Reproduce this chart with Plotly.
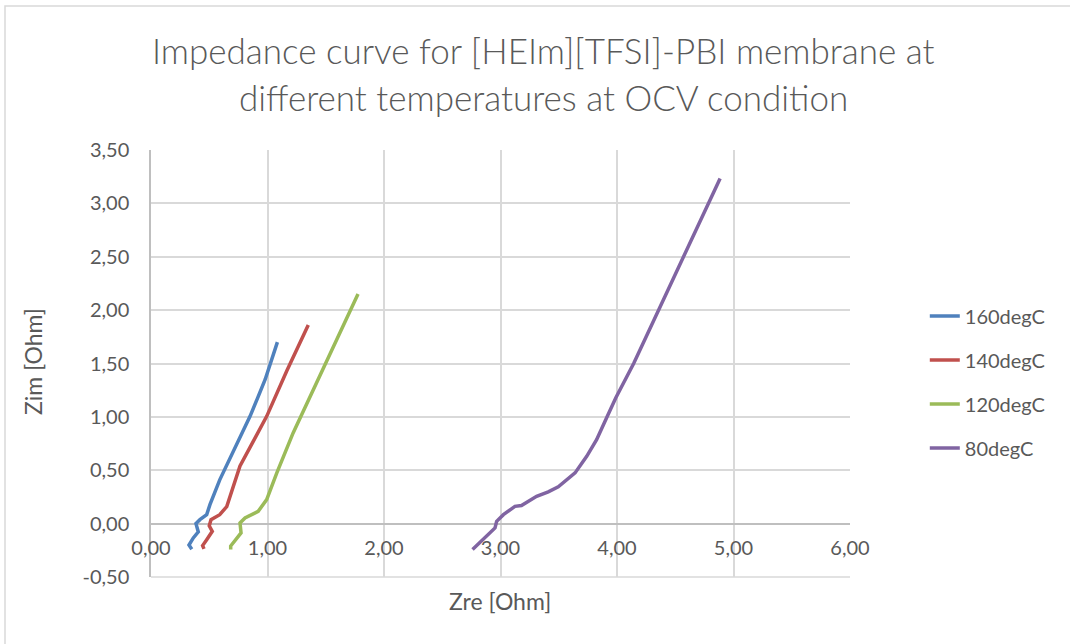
import plotly.graph_objects as go

series_names = ["160degC", "140degC", "120degC", "80degC"]

zre_160 = [0.35, 0.326, 0.363, 0.406, 0.386, 0.42, 0.478, 0.506, 0.59, 0.85, 0.92, 0.98, 1.085]
zim_160 = [-0.24, -0.20, -0.134, -0.078, 0.0, 0.037, 0.084, 0.178, 0.41, 1.005, 1.19, 1.35, 1.70]

zre_140 = [0.455, 0.443, 0.478, 0.526, 0.50, 0.515, 0.59, 0.65, 0.764, 0.993, 1.165, 1.35]
zim_140 = [-0.237, -0.206, -0.15, -0.072, -0.02, 0.037, 0.084, 0.16, 0.54, 1.005, 1.43, 1.86]

zre_120 = [0.684, 0.684, 0.773, 0.764, 0.807, 0.92, 0.993, 1.08, 1.22, 1.68, 1.777]
zim_120 = [-0.243, -0.21, -0.087, 0.006, 0.053, 0.115, 0.225, 0.475, 0.85, 1.91, 2.15]

zre_80 = [2.76, 2.953, 2.967, 3.025, 3.124, 3.18, 3.31, 3.41, 3.496, 3.64, 3.74, 3.825,
          3.91, 3.99, 4.143, 4.357, 4.566, 4.785, 4.885]
zim_80 = [-0.243, -0.04, 0.022, 0.084, 0.162, 0.17, 0.256, 0.297, 0.344, 0.475, 0.63, 0.786,
          0.99, 1.18, 1.5, 2.0, 2.5, 3.0, 3.234]

y_tickvals = [-0.5, 0, 0.5, 1.0, 1.5, 2.0, 2.5, 3.0, 3.5]
y_ticktext = ["-0,50", "0,00", "0,50", "1,00", "1,50", "2,00", "2,50", "3,00", "3,50"]

colors = ["#4F81BD", "#C0504D", "#9BBB59", "#8064A2"]
xs = [zre_160, zre_140, zre_120, zre_80]
ys = [zim_160, zim_140, zim_120, zim_80]

FONT = "Lato"
GREY = "#595959"

fig = go.Figure()
for name, x, y, c in zip(series_names, xs, ys, colors):
    fig.add_trace(go.Scatter(x=x, y=y, mode="lines", name=name, legendgroup=name,
                             line=dict(color=c, width=3.5)))

fig.update_layout(
    width=1070, height=644,
    margin=dict(l=151, r=220, t=150, b=67),
    paper_bgcolor="white", plot_bgcolor="white",
    separators=", ",
    font=dict(family=FONT, color=GREY, size=20),
    showlegend=True,
    legend=dict(x=1.107, xanchor="left", y=0.657, yanchor="top",
                font=dict(size=20, color=GREY), tracegroupgap=15,
                bgcolor="rgba(0,0,0,0)"),
    xaxis=dict(range=[0, 6], dtick=1, tick0=0, tickformat=".2f", showgrid=True,
               gridcolor="#d9d9d9", gridwidth=1.5, zeroline=False, showline=False,
               anchor="free", position=0.124, ticks="", ticklabelstandoff=10,
               tickfont=dict(size=20, color=GREY, family=FONT)),
    yaxis=dict(range=[-0.5, 3.5], tickmode="array", tickvals=y_tickvals, ticktext=y_ticktext,
               showgrid=True,
               gridcolor="#d9d9d9", gridwidth=1.5, zeroline=True, zerolinecolor="#bfbfbf",
               zerolinewidth=1.5, showline=True, linecolor="#bfbfbf", linewidth=1.5,
               ticks="", ticklabelstandoff=16,
               tickfont=dict(size=20, color=GREY, family=FONT)),
    annotations=[
        dict(text="Impedance curve for [HEIm][TFSI]-PBI membrane at", xref="paper", yref="paper",
             x=(543 - 151) / 699, y=(577 - 50) / 427, showarrow=False,
             font=dict(size=35, color=GREY, family=FONT, weight=300), xanchor="center", yanchor="middle"),
        dict(text="different temperatures at OCV condition", xref="paper", yref="paper",
             x=(543 - 151) / 699, y=(577 - 97) / 427, showarrow=False,
             font=dict(size=35, color=GREY, family=FONT, weight=300), xanchor="center", yanchor="middle"),
        dict(text="Zre [Ohm]", xref="paper", yref="paper",
             x=(500 - 151) / 699, y=(577 - 601) / 427, showarrow=False,
             font=dict(size=23, color=GREY, family=FONT), xanchor="center", yanchor="middle"),
        dict(text="Zim [Ohm]", xref="paper", yref="paper",
             x=(33 - 151) / 699, y=(577 - 362) / 427, showarrow=False, textangle=-90,
             font=dict(size=23, color=GREY, family=FONT), xanchor="center", yanchor="middle"),
    ],
    shapes=[
        dict(type="rect", xref="paper", yref="paper",
             x0=(5 - 151) / 699, x1=(1090 - 151) / 699,
             y0=(577 - 660) / 427, y1=(577 - 6) / 427,
             line=dict(color="#d9d9d9", width=1.5), fillcolor="rgba(0,0,0,0)", layer="below"),
        dict(type="line", xref="paper", yref="paper", x0=0, x1=1, y0=0, y1=0,
             line=dict(color="#d9d9d9", width=1.5), layer="below"),
    ],
)

fig.write_html("out.html", config={"displayModeBar": False},
               post_script="document.body.style.margin='0';")
